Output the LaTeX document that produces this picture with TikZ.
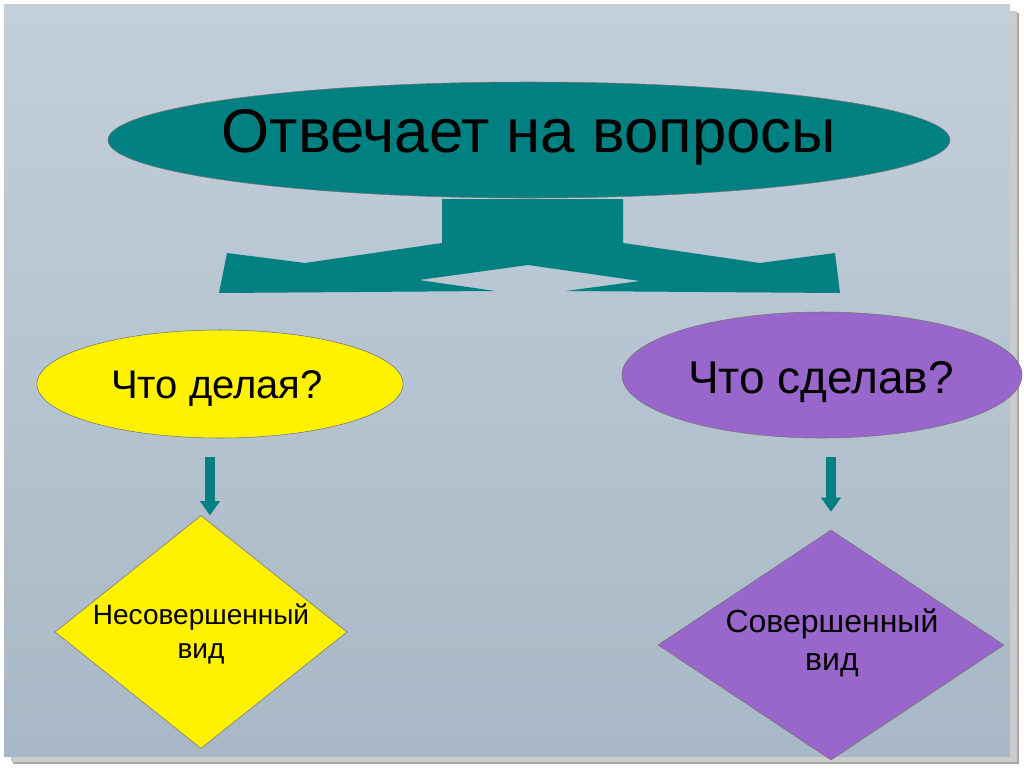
\documentclass[tikz,border=0pt]{standalone}
\usepackage{fontspec}
\setmainfont{Liberation Sans}
\usetikzlibrary{shapes.geometric,arrows.meta}

\definecolor{tealfill}{HTML}{008080}
\definecolor{lilac}{HTML}{9966CC}
\definecolor{slidetop}{HTML}{C3CFDB}
\definecolor{slidebot}{HTML}{A9B8C6}

\tikzset{
    oval/.style={ellipse, draw=black!55, thin, inner sep=0pt},
    rhomb/.style={diamond, draw=black!55, thin, inner sep=0pt},
    downarrow/.style={tealfill, line width=7.5pt,
        -{Triangle[width=15pt,length=10.5pt,line width=0pt]}},
    label/.style={inner sep=0pt, text=black}
}

\begin{document}
\begin{tikzpicture}[x=0.75pt,y=-0.75pt]
    \useasboundingbox[fill=white] (0,0) rectangle (1024,768);

    % Folie mit Schatten
    \fill[black!35] (13,13) rectangle (1019,764);
    \fill[black!20] (11,11) rectangle (1017,762);
    \shade[top color=slidetop,bottom color=slidebot] (4,4) rectangle (1010,756);

    % Kopf
    \node[oval, fill=tealfill, minimum width=631.5pt, minimum height=87pt] (head) at (529,140) {};
    \node[label, anchor=base, font=\fontsize{46.3}{52}\selectfont] (headtxt) at (529,152) {Отвечает на вопросы};

    % Verzweigung
    \fill[tealfill] (442,199) -- (623,199) -- (623,243) -- (760,263) -- (835,253)
        -- (840,293) -- (566,291) -- (640,281) -- (528,265) -- (419,280)
        -- (495,291) -- (219,293) -- (227,253) -- (305,263) -- (442,243) -- cycle;

    % Fragen
    \node[oval, fill=yellow, minimum width=274.5pt, minimum height=81pt] (doing) at (220,384) {};
    \node[label, anchor=base, font=\fontsize{30}{36}\selectfont] (doingtxt) at (217,398) {Что делая?};

    \node[oval, fill=lilac, minimum width=300pt, minimum height=94.5pt] (done) at (822,375) {};
    \node[label, anchor=base, font=\fontsize{34.5}{40}\selectfont] (donetxt) at (821,393) {Что сделав?};

    % Vid
    \node[rhomb, fill=yellow, minimum width=219pt, minimum height=174.75pt] (imperf) at (201,632) {};
    \node[label, align=center, font=\fontsize{21}{26}\selectfont] (imperftxt) at (201,634) {Несовершенный\\вид};

    \node[rhomb, fill=lilac, minimum width=259.5pt, minimum height=172.5pt] (perf) at (831,645) {};
    \node[label, align=center, font=\fontsize{24}{28.5}\selectfont] (perftxt) at (832,643) {Совершенный\\вид};

    % Pfeile
    \coordinate (ltail) at (210,457);
    \coordinate (rtail) at (831,457);
    \draw[downarrow] (ltail) -- (ltail |- imperf.north);
    \draw[downarrow] (rtail) -- ([yshift=13.5pt]rtail |- perf.north);
\end{tikzpicture}
\end{document}
